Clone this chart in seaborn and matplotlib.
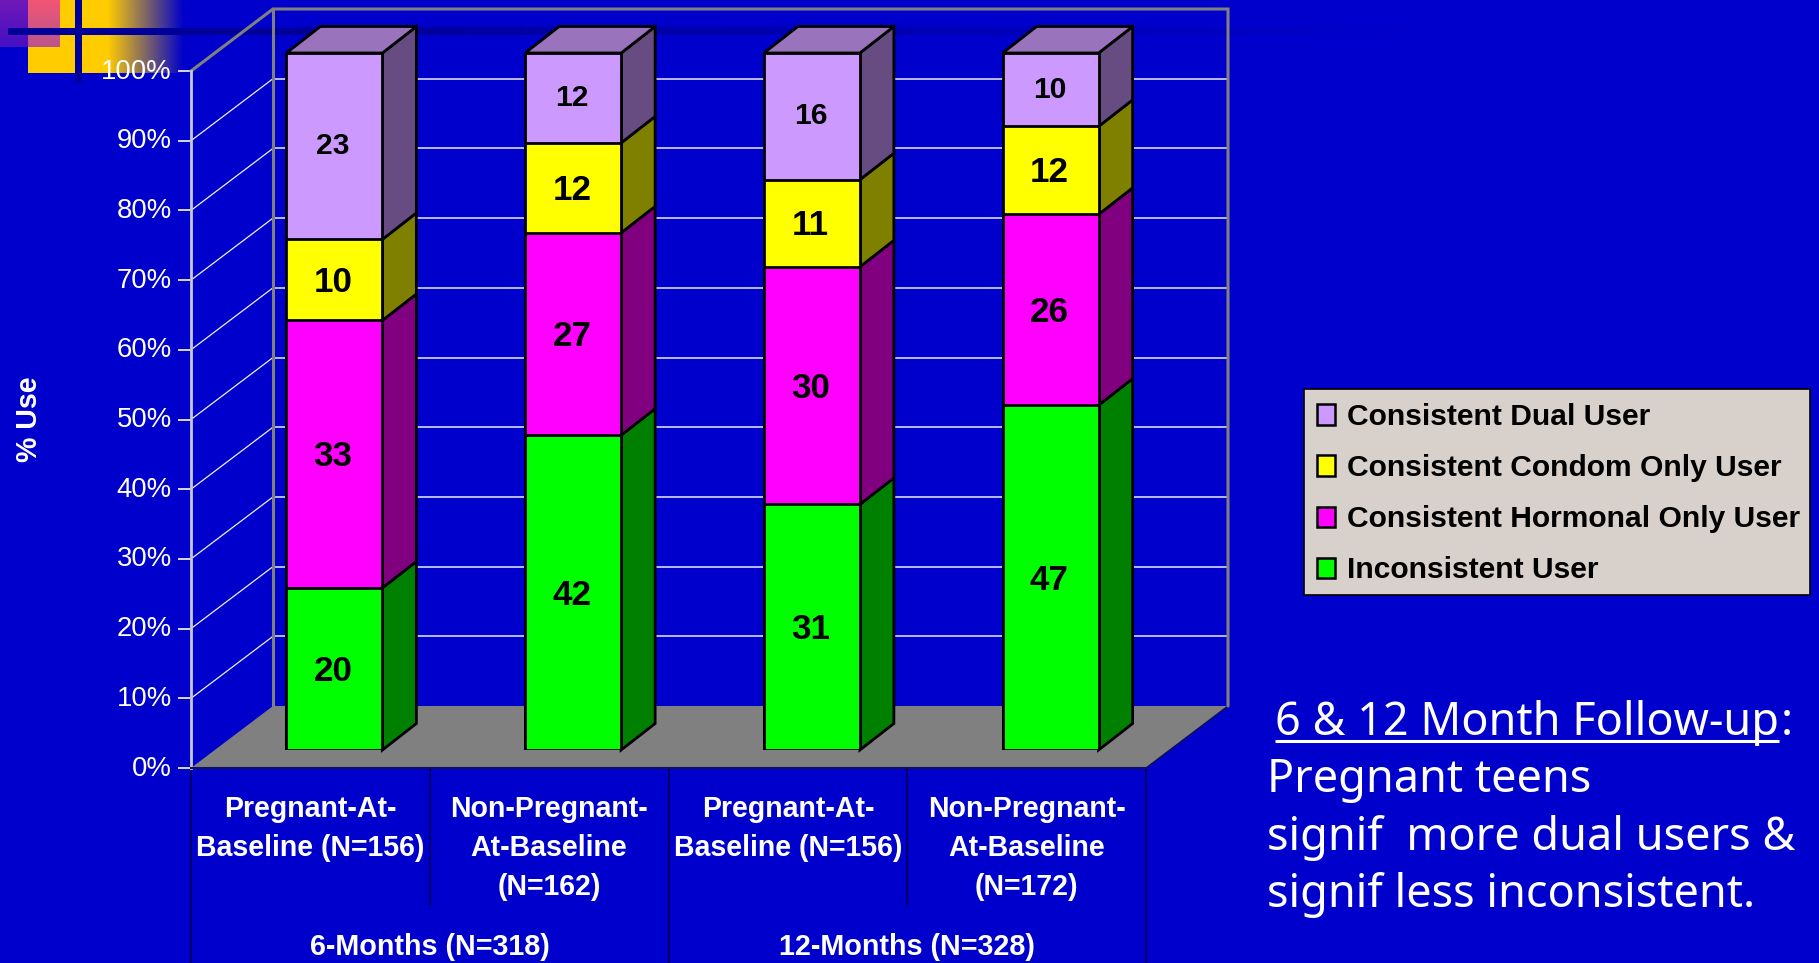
import numpy as np
import pandas as pd
import matplotlib
matplotlib.use("Agg")
import matplotlib.pyplot as plt
from matplotlib.patches import Patch, Rectangle
from matplotlib.transforms import ScaledTranslation
import seaborn as sns

# ---- chart values ----
groups = ["6m-preg", "6m-nonpreg", "12m-preg", "12m-nonpreg"]
group_labels = ["Pregnant-At-\nBaseline (N=156)", "Non-Pregnant-\nAt-Baseline\n(N=162)",
                "Pregnant-At-\nBaseline (N=156)", "Non-Pregnant-\nAt-Baseline\n(N=172)"]
period_labels = ["6-Months (N=318)", "12-Months (N=328)"]
inconsistent = [20, 42, 31, 47]
hormonal = [33, 27, 30, 26]
condom = [10, 12, 11, 12]
dual = [23, 12, 16, 10]
series_names = ["Inconsistent User", "Consistent Hormonal Only User",
                "Consistent Condom Only User", "Consistent Dual User"]
percent_ticks = list(range(0, 101, 10))

# ---- styling ----
BG = "#0000CC"
NAVY = np.array([0, 0, 153]) / 255
front_colors = ["#00FF00", "#FF00FF", "#FFFF00", "#CC99FF"]
side_colors = ["#008000", "#800080", "#808000", "#664C80"]
top_color = "#9973BB"
label_px = [35, 35, 35, 30]
label_drop_px = [2.5, 2.5, 2.5, 0]
W, H = 1819, 963
PT = 0.72  # points per pixel at 100 dpi

sns.set_theme(style="white")
plt.rcParams["font.family"] = ["Liberation Sans", "DejaVu Sans"]
fig = plt.figure(figsize=(W / 100, H / 100), dpi=100, facecolor=BG)


def rect(x0, y0, x1, y1):
    """Axes rectangle from pixel corners (origin at the top left)."""
    return [x0 / W, 1 - y1 / H, (x1 - x0) / W, (y1 - y0) / H]


# ---- slide decoration, in pixel coordinates ----
deco = fig.add_axes([0, 0, 1, 1], zorder=0)
deco.set_xlim(0, W)
deco.set_ylim(H, 0)
deco.axis("off")
deco.set_facecolor(BG)


def gradient(c0, c1, a0, a1, horizontal=True, n=128):
    t = np.linspace(0, 1, n)
    img = np.zeros((1, n, 4)) if horizontal else np.zeros((n, 1, 4))
    rgb = np.outer(1 - t, c0) + np.outer(t, c1)
    alpha = a0 + (a1 - a0) * t
    if horizontal:
        img[0, :, :3], img[0, :, 3] = rgb, alpha
    else:
        img[:, 0, :3], img[:, 0, 3] = rgb, alpha
    return img


def paint(img, x0, x1, y0, y1, z):
    deco.imshow(img, extent=(x0, x1, y1, y0), aspect="auto", zorder=z, interpolation="bilinear")


gold = np.array([255, 204, 0]) / 255
paint(gradient(gold, gold, 1, 1), 28, 108, 0, 73, 1)
paint(gradient(gold, gold, 1, 0), 108, 184, 0, 73, 1)
paint(gradient(np.array([112, 25, 185]) / 255, np.array([70, 15, 195]) / 255, 1, 1, False), 0, 28, 0, 47, 2)
paint(gradient(np.array([242, 85, 115]) / 255, np.array([185, 85, 140]) / 255, 1, 1, False), 28, 59, 0, 47, 2)
paint(gradient(NAVY, NAVY, 1, 1), 8, 300, 28, 35, 3)
paint(gradient(NAVY, NAVY, 1, 0), 300, 1450, 27, 35, 3)
paint(gradient(NAVY, NAVY, 1, 1), 75, 82, 0, 83, 3)
deco.set_xlim(0, W)
deco.set_ylim(H, 0)

# ---- front plane of the chart box: real axis with ticks ----
ax = fig.add_axes(rect(191, 71, 1146, 768), zorder=1)
ax.patch.set_visible(False)
ax.set_xlim(-0.5, 3.5)
ax.set_ylim(0, 100)
sns.despine(ax=ax, top=True, right=True)
ax.spines["left"].set_color("#C8C8C8")
ax.spines["left"].set_linewidth(2)
ax.spines["bottom"].set_color("#101060")
ax.spines["bottom"].set_linewidth(1.5)

ax.set_yticks(percent_ticks, [f"{v}%" for v in percent_ticks])
ax.tick_params(axis="y", length=13 * PT, width=1.4, color="#D8D8D8", pad=4.5,
               labelcolor="white", labelsize=27.5 * PT, left=True)
nudge = ScaledTranslation(0, 2.5 / 100, fig.dpi_scale_trans)
for lab in ax.get_yticklabels():
    lab.set_transform(lab.get_transform() + nudge)
ax.set_xticks(range(len(groups)), group_labels)
ax.tick_params(axis="x", length=0, pad=27 * PT, labelcolor="white", labelsize=28.5 * PT)
for lab in ax.get_xticklabels():
    lab.set_fontweight("bold")
    lab.set_linespacing(1.5)
    lab.set_verticalalignment("top")

UNIT_X = (1146 - 191) / 4      # pixels per category
UNIT_Y = (768 - 71) / 100      # pixels per percent
DX = 82 / UNIT_X               # depth of the box
DY = 62 / UNIT_Y
x_l, x_r = -0.5, 3.5

# floor, walls and gridlines
ax.fill([x_l, x_l + DX, x_r + DX, x_r], [0, DY, DY, 0], fc="#808080", ec="none", zorder=1, clip_on=False)
ax.plot([x_r, x_r + DX], [0, DY], color="#101050", lw=1, zorder=1, clip_on=False)
for v in percent_ticks[1:-1]:
    ax.plot([x_l, x_l + DX], [v, v + DY], color="#F0F0FF", lw=0.9, zorder=1, clip_on=False)
    ax.plot([x_l + DX, x_r + DX], [v + DY, v + DY], color="#C8C8F4", lw=1.3, zorder=1, clip_on=False)
wall_x = [x_l, x_l + DX, x_r + DX, x_r + DX]
wall_y = [100, 100 + DY, 100 + DY, DY]
ax.plot(wall_x, wall_y, color="#808080", lw=2.2, zorder=1.5, clip_on=False, solid_joinstyle="miter")
ax.plot([x_l + DX, x_l + DX], [DY, 100 + DY], color="#808080", lw=2.2, zorder=1.5, clip_on=False)

# divider lines of the two-level category table
y_inner = -(905 - 768) / UNIT_Y
y_outer = -(963 - 768) / UNIT_Y
for x, y_end in zip([-0.5, 0.5, 1.5, 2.5, 3.5], [y_outer, y_inner, y_outer, y_inner, y_outer]):
    ax.plot([x, x], [0, y_end], color="#000050", lw=1.2, clip_on=False, zorder=1)
for x, text in zip([0.5, 2.5], period_labels):
    ax.text(x, -(947 - 768) / UNIT_Y, text, ha="center", va="center", color="white",
            fontsize=28.8 * PT, fontweight="bold", clip_on=False)

# ---- columns: seaborn bars on a plane set back inside the box ----
bar_ax = fig.add_axes(rect(215, 53, 1170, 750), zorder=2)
bar_ax.patch.set_visible(False)

table = pd.DataFrame({"group": groups, series_names[0]: inconsistent, series_names[1]: hormonal,
                      series_names[2]: condom, series_names[3]: dual}).set_index("group")
shares = table.div(table.sum(axis=1), axis=0) * 100
tops = shares.cumsum(axis=1)
bottoms = tops.shift(1, axis=1).fillna(0)

BAR_W = 96 / UNIT_X
EDGE = 2.0
for name, color in zip(series_names[::-1], front_colors[::-1]):
    sns.barplot(data=tops.reset_index(), x="group", y=name, order=groups, color=color, saturation=1,
                width=BAR_W, edgecolor="black", linewidth=EDGE, ax=bar_ax, zorder=5)
bar_ax.set_xlim(-0.5, 3.5)
bar_ax.set_ylim(0, 100)
bar_ax.axis("off")

d_x = 34 / UNIT_X
d_y = 26.5 / UNIT_Y
for i, g in enumerate(groups):
    right = i + BAR_W / 2
    left = i - BAR_W / 2
    for name, side in zip(series_names, side_colors):
        b, t = bottoms.loc[g, name], tops.loc[g, name]
        bar_ax.fill([right, right + d_x, right + d_x, right], [b, b + d_y, t + d_y, t], fc=side,
                    ec="black", lw=EDGE, zorder=4, clip_on=False, joinstyle="miter")
    bar_ax.fill([left, left + d_x, right + d_x, right], [100, 100 + d_y, 100 + d_y, 100], fc=top_color,
                ec="black", lw=EDGE, zorder=4, clip_on=False, joinstyle="miter")
    for name, px, drop in zip(series_names, label_px, label_drop_px):
        b, t = bottoms.loc[g, name], tops.loc[g, name]
        bar_ax.text(i - 0.005, (b + t) / 2 - drop / UNIT_Y, f"{table.loc[g, name]:d}", ha="center", va="center",
                    color="black", fontsize=px * PT, fontweight="bold", zorder=6)

# ---- legend: panel drawn behind an unframed legend ----
deco.add_patch(Rectangle((1304, 389), 506, 206, facecolor="#D8D0CA", edgecolor="black", linewidth=1.2, zorder=4))
handles = [Patch(facecolor=c, edgecolor="black", linewidth=1.8, label=n)
           for n, c in zip(series_names[::-1], front_colors[::-1])]
leg = fig.legend(handles=handles, loc="upper left", bbox_to_anchor=(1317 / W, 1 - 403 / H),
                 bbox_transform=fig.transFigure, frameon=False, borderaxespad=0,
                 borderpad=0, labelspacing=0.77, handlelength=0.6, handleheight=0.66,
                 handletextpad=0.4, prop={"weight": "bold", "size": 30 * PT})
leg.set_zorder(5)
for t in leg.get_texts():
    t.set_color("black")

# ---- axis title ----
fig.text(29 / W, 1 - 419 / H, "% Use", rotation=90, ha="center", va="center", color="white",
         fontsize=28.5 * PT, fontweight="bold")

# ---- side note ----
note_font = dict(family=["Noto Sans", "DejaVu Sans"], color="white", fontsize=45 * PT, va="baseline", ha="left")
head = deco.text(1275, 735, "6 & 12 Month Follow-up", **note_font)
fig.canvas.draw()
ext = head.get_window_extent()
deco.text(ext.x1 + 2, 735, ":", **note_font)
deco.plot([1275, ext.x1], [741.5, 741.5], color="white", lw=2.2, solid_capstyle="butt")
for y, line in zip([792, 850, 907], ["Pregnant teens", "signif  more dual users &", "signif less inconsistent."]):
    deco.text(1267, y, line, **note_font)

fig.savefig("out.png", dpi=100, facecolor=BG)
